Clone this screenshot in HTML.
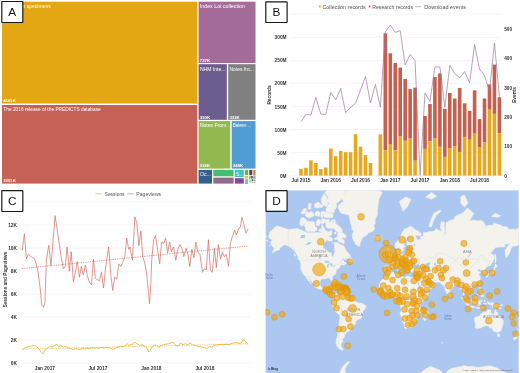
<!DOCTYPE html>
<html><head><meta charset="utf-8"><title>Figure</title>
<style>
html,body{margin:0;padding:0;background:#fff;}
svg{display:block;font-family:"Liberation Sans", Arial, sans-serif;}
</style></head>
<body>
<svg width="520" height="373" viewBox="0 0 520 373">
<rect width="520" height="373" fill="#fff"/>
<g id="panelA">
<rect x="2.00" y="1.70" width="195.20" height="101.80" fill="#E2A712" />
<text x="3.30" y="8.00" font-size="5.2" fill="#fff" text-anchor="start" font-weight="normal"  textLength="47.4" lengthAdjust="spacingAndGlyphs">Collection specimens</text>
<text x="3.20" y="102.30" font-size="4.3" fill="#fff" text-anchor="start" font-weight="bold" >4161K</text>
<rect x="2.00" y="105.00" width="195.20" height="78.60" fill="#C66156" />
<text x="3.30" y="111.30" font-size="5.2" fill="#fff" text-anchor="start" font-weight="normal"  textLength="97.5" lengthAdjust="spacingAndGlyphs">The 2016 release of the PREDICTS database</text>
<text x="3.20" y="182.40" font-size="4.3" fill="#fff" text-anchor="start" font-weight="bold" >3251K</text>
<rect x="198.60" y="1.70" width="56.90" height="61.30" fill="#A36C99" />
<text x="199.90" y="8.00" font-size="5.2" fill="#fff" text-anchor="start" font-weight="normal"  textLength="45" lengthAdjust="spacingAndGlyphs">Index Lot collection</text>
<text x="199.80" y="61.80" font-size="4.3" fill="#fff" text-anchor="start" font-weight="bold" >737K</text>
<rect x="198.60" y="64.20" width="28.20" height="55.60" fill="#6B5D8D" />
<text x="199.90" y="70.50" font-size="5.2" fill="#fff" text-anchor="start" font-weight="normal"  textLength="25.7" lengthAdjust="spacingAndGlyphs">NHM Inte...</text>
<text x="199.80" y="118.60" font-size="4.3" fill="#fff" text-anchor="start" font-weight="bold" >350K</text>
<rect x="228.20" y="64.20" width="27.30" height="55.60" fill="#808080" />
<text x="229.50" y="70.50" font-size="5.2" fill="#fff" text-anchor="start" font-weight="normal"  textLength="24.4" lengthAdjust="spacingAndGlyphs">Notes fro...</text>
<text x="229.40" y="118.60" font-size="4.3" fill="#fff" text-anchor="start" font-weight="bold" >332K</text>
<rect x="198.60" y="121.10" width="31.70" height="47.50" fill="#92B94F" />
<text x="199.90" y="127.40" font-size="5.2" fill="#fff" text-anchor="start" font-weight="normal"  textLength="30.4" lengthAdjust="spacingAndGlyphs">Notes From...</text>
<text x="199.80" y="167.40" font-size="4.3" fill="#fff" text-anchor="start" font-weight="bold" >332K</text>
<rect x="231.70" y="121.10" width="23.80" height="47.50" fill="#4F9DD3" />
<text x="233.00" y="127.40" font-size="5.2" fill="#fff" text-anchor="start" font-weight="normal"  textLength="18.2" lengthAdjust="spacingAndGlyphs">Baleen ...</text>
<text x="232.90" y="167.40" font-size="4.3" fill="#fff" text-anchor="start" font-weight="bold" >249K</text>
<rect x="198.60" y="169.90" width="13.40" height="13.70" fill="#33608B" />
<text x="199.90" y="176.20" font-size="5.2" fill="#fff" text-anchor="start" font-weight="normal" >Oc...</text>
<rect x="213.30" y="169.90" width="20.30" height="6.40" fill="#44BF70" />
<rect x="213.30" y="177.60" width="20.30" height="6.00" fill="#8F6B8C" />
<rect x="234.80" y="169.90" width="9.00" height="7.10" fill="#3FC4C4" />
<text x="236.10" y="176.20" font-size="5.2" fill="#fff" text-anchor="start" font-weight="normal" >S...</text>
<rect x="234.80" y="178.20" width="9.00" height="5.40" fill="#864999" />
<rect x="244.90" y="169.90" width="3.30" height="5.20" fill="#6EB43C" />
<rect x="244.90" y="175.90" width="3.30" height="2.70" fill="#C9D23A" />
<rect x="244.90" y="179.30" width="3.30" height="1.50" fill="#3FC9A0" />
<rect x="244.90" y="181.30" width="3.30" height="1.00" fill="#4F8FD8" />
<rect x="244.90" y="182.70" width="3.30" height="0.90" fill="#9A55A8" />
<rect x="249.30" y="169.90" width="3.00" height="5.20" fill="#4B3F7C" />
<rect x="253.30" y="169.90" width="2.20" height="5.70" fill="#E07B2E" />
<rect x="249.30" y="175.90" width="1.30" height="2.70" fill="#5E9E3E" />
<rect x="251.20" y="175.90" width="1.50" height="2.70" fill="#2B3F6B" />
<rect x="253.30" y="176.30" width="2.20" height="2.30" fill="#8A8A8A" />
<rect x="249.30" y="179.30" width="2.10" height="3.30" fill="#A8D08A" />
<rect x="251.90" y="179.30" width="1.30" height="1.70" fill="#3A4A8A" />
<rect x="253.60" y="179.30" width="1.90" height="1.70" fill="#B58BC0" />
<rect x="251.90" y="181.50" width="1.50" height="1.70" fill="#7FC6E8" />
<rect x="253.80" y="181.50" width="1.70" height="1.70" fill="#E8C05A" />
<rect x="1.80" y="1.50" width="21.00" height="21.00" fill="#fff" stroke="#1a1a1a" stroke-width="1.2" rx="0.4"/>
<text x="12.30" y="15.60" font-size="11.8" fill="#111" text-anchor="middle" font-weight="normal" >A</text>
</g>
<g id="panelB">
<line x1="290" x2="501.5" y1="175.60" y2="175.60" stroke="#EEEEEE" stroke-width="0.6"/>
<text x="286.60" y="177.60" font-size="4.8" fill="#333" text-anchor="end" font-weight="bold" >0M</text>
<line x1="290" x2="501.5" y1="152.57" y2="152.57" stroke="#EEEEEE" stroke-width="0.6"/>
<text x="286.60" y="154.57" font-size="4.8" fill="#333" text-anchor="end" font-weight="bold" >50M</text>
<line x1="290" x2="501.5" y1="129.54" y2="129.54" stroke="#EEEEEE" stroke-width="0.6"/>
<text x="286.60" y="131.54" font-size="4.8" fill="#333" text-anchor="end" font-weight="bold" >100M</text>
<line x1="290" x2="501.5" y1="106.51" y2="106.51" stroke="#EEEEEE" stroke-width="0.6"/>
<text x="286.60" y="108.51" font-size="4.8" fill="#333" text-anchor="end" font-weight="bold" >150M</text>
<line x1="290" x2="501.5" y1="83.48" y2="83.48" stroke="#EEEEEE" stroke-width="0.6"/>
<text x="286.60" y="85.48" font-size="4.8" fill="#333" text-anchor="end" font-weight="bold" >200M</text>
<line x1="290" x2="501.5" y1="60.45" y2="60.45" stroke="#EEEEEE" stroke-width="0.6"/>
<text x="286.60" y="62.45" font-size="4.8" fill="#333" text-anchor="end" font-weight="bold" >250M</text>
<line x1="290" x2="501.5" y1="37.42" y2="37.42" stroke="#EEEEEE" stroke-width="0.6"/>
<text x="286.60" y="39.42" font-size="4.8" fill="#333" text-anchor="end" font-weight="bold" >300M</text>
<line x1="290" x2="501.5" y1="14.39" y2="14.39" stroke="#EEEEEE" stroke-width="0.6"/>
<text x="504.20" y="177.60" font-size="4.7" fill="#333" text-anchor="start" font-weight="bold" >0</text>
<text x="504.20" y="148.30" font-size="4.7" fill="#333" text-anchor="start" font-weight="bold" >100</text>
<text x="504.20" y="119.00" font-size="4.7" fill="#333" text-anchor="start" font-weight="bold" >200</text>
<text x="504.20" y="89.70" font-size="4.7" fill="#333" text-anchor="start" font-weight="bold" >300</text>
<text x="504.20" y="60.40" font-size="4.7" fill="#333" text-anchor="start" font-weight="bold" >400</text>
<text x="504.20" y="31.10" font-size="4.7" fill="#333" text-anchor="start" font-weight="bold" >500</text>
<rect x="299.20" y="168.80" width="3.60" height="6.80" fill="#E6A81C" />
<rect x="304.16" y="167.80" width="3.60" height="7.80" fill="#E6A81C" />
<rect x="309.12" y="160.30" width="3.60" height="15.30" fill="#E6A81C" />
<rect x="314.08" y="163.00" width="3.60" height="12.60" fill="#E6A81C" />
<rect x="319.04" y="169.10" width="3.60" height="6.50" fill="#E6A81C" />
<rect x="324.00" y="167.50" width="3.60" height="8.10" fill="#E6A81C" />
<rect x="328.96" y="148.50" width="3.60" height="27.10" fill="#E6A81C" />
<rect x="333.92" y="156.20" width="3.60" height="19.40" fill="#E6A81C" />
<rect x="338.88" y="150.90" width="3.60" height="24.70" fill="#E6A81C" />
<rect x="343.84" y="152.20" width="3.60" height="23.40" fill="#E6A81C" />
<rect x="348.80" y="152.20" width="3.60" height="23.40" fill="#E6A81C" />
<rect x="353.76" y="134.20" width="3.60" height="41.40" fill="#E6A81C" />
<rect x="358.72" y="146.70" width="3.60" height="28.90" fill="#E6A81C" />
<rect x="363.68" y="155.10" width="3.60" height="20.50" fill="#E6A81C" />
<rect x="368.64" y="163.00" width="3.60" height="12.60" fill="#E6A81C" />
<rect x="378.56" y="134.30" width="3.60" height="41.30" fill="#E6A81C" />
<rect x="383.52" y="33.30" width="3.60" height="117.10" fill="#C4604F" />
<rect x="383.52" y="150.40" width="3.60" height="25.20" fill="#E6A81C" />
<rect x="388.48" y="53.30" width="3.60" height="90.70" fill="#C4604F" />
<rect x="388.48" y="144.00" width="3.60" height="31.60" fill="#E6A81C" />
<rect x="393.44" y="62.90" width="3.60" height="87.50" fill="#C4604F" />
<rect x="393.44" y="150.40" width="3.60" height="25.20" fill="#E6A81C" />
<rect x="398.40" y="67.60" width="3.60" height="68.90" fill="#C4604F" />
<rect x="398.40" y="136.50" width="3.60" height="39.10" fill="#E6A81C" />
<rect x="403.36" y="79.00" width="3.60" height="61.80" fill="#C4604F" />
<rect x="403.36" y="140.80" width="3.60" height="34.80" fill="#E6A81C" />
<rect x="408.32" y="89.10" width="3.60" height="49.50" fill="#C4604F" />
<rect x="408.32" y="138.60" width="3.60" height="37.00" fill="#E6A81C" />
<rect x="413.28" y="87.60" width="3.60" height="73.10" fill="#C4604F" />
<rect x="413.28" y="160.70" width="3.60" height="14.90" fill="#E6A81C" />
<rect x="423.20" y="116.00" width="3.60" height="32.90" fill="#C4604F" />
<rect x="423.20" y="148.90" width="3.60" height="26.70" fill="#E6A81C" />
<rect x="428.16" y="104.00" width="3.60" height="37.20" fill="#C4604F" />
<rect x="428.16" y="141.20" width="3.60" height="34.40" fill="#E6A81C" />
<rect x="433.12" y="77.00" width="3.60" height="61.60" fill="#C4604F" />
<rect x="433.12" y="138.60" width="3.60" height="37.00" fill="#E6A81C" />
<rect x="438.08" y="73.40" width="3.60" height="73.40" fill="#C4604F" />
<rect x="438.08" y="146.80" width="3.60" height="28.80" fill="#E6A81C" />
<rect x="443.04" y="108.80" width="3.60" height="48.10" fill="#C4604F" />
<rect x="443.04" y="156.90" width="3.60" height="18.70" fill="#E6A81C" />
<rect x="448.00" y="93.00" width="3.60" height="55.60" fill="#C4604F" />
<rect x="448.00" y="148.60" width="3.60" height="27.00" fill="#E6A81C" />
<rect x="452.96" y="98.50" width="3.60" height="47.60" fill="#C4604F" />
<rect x="452.96" y="146.10" width="3.60" height="29.50" fill="#E6A81C" />
<rect x="457.92" y="88.00" width="3.60" height="64.10" fill="#C4604F" />
<rect x="457.92" y="152.10" width="3.60" height="23.50" fill="#E6A81C" />
<rect x="462.88" y="103.30" width="3.60" height="33.60" fill="#C4604F" />
<rect x="462.88" y="136.90" width="3.60" height="38.70" fill="#E6A81C" />
<rect x="467.84" y="110.80" width="3.60" height="28.90" fill="#C4604F" />
<rect x="467.84" y="139.70" width="3.60" height="35.90" fill="#E6A81C" />
<rect x="472.80" y="90.40" width="3.60" height="43.30" fill="#C4604F" />
<rect x="472.80" y="133.70" width="3.60" height="41.90" fill="#E6A81C" />
<rect x="477.76" y="119.10" width="3.60" height="28.10" fill="#C4604F" />
<rect x="477.76" y="147.20" width="3.60" height="28.40" fill="#E6A81C" />
<rect x="482.72" y="98.50" width="3.60" height="44.00" fill="#C4604F" />
<rect x="482.72" y="142.50" width="3.60" height="33.10" fill="#E6A81C" />
<rect x="487.68" y="84.50" width="3.60" height="25.20" fill="#C4604F" />
<rect x="487.68" y="109.70" width="3.60" height="65.90" fill="#E6A81C" />
<rect x="492.64" y="64.60" width="3.60" height="49.30" fill="#C4604F" />
<rect x="492.64" y="113.90" width="3.60" height="61.70" fill="#E6A81C" />
<rect x="497.60" y="97.20" width="3.60" height="36.10" fill="#C4604F" />
<rect x="497.60" y="133.30" width="3.60" height="42.30" fill="#E6A81C" />
<polyline points="301.00,121.90 305.96,114.40 310.92,114.90 315.88,97.50 320.84,114.00 325.80,114.40 330.76,92.30 335.72,99.90 340.68,88.50 345.64,112.50 350.60,107.30 355.56,103.10 360.52,90.00 365.48,76.50 370.44,103.10 375.40,84.40 380.36,107.30 385.32,31.90 390.28,25.10 395.24,32.40 400.20,30.60 405.16,64.90 410.12,54.50 415.08,60.60 420.04,175.40 425.00,93.00 429.96,101.50 434.92,66.90 439.88,67.00 444.84,107.50 449.80,65.30 454.76,73.70 459.72,77.80 464.68,71.50 469.64,82.80 474.60,44.40 479.56,69.20 484.52,75.60 489.48,91.00 494.44,43.00 499.40,96.50" fill="none" stroke="#9C7A9E" stroke-width="0.7" stroke-linejoin="round"/>
<text x="301.00" y="181.90" font-size="4.8" fill="#333" text-anchor="middle" font-weight="bold" >Jul 2015</text>
<text x="330.76" y="181.90" font-size="4.8" fill="#333" text-anchor="middle" font-weight="bold" >Jan 2016</text>
<text x="360.52" y="181.90" font-size="4.8" fill="#333" text-anchor="middle" font-weight="bold" >Jul 2016</text>
<text x="390.28" y="181.90" font-size="4.8" fill="#333" text-anchor="middle" font-weight="bold" >Jan 2017</text>
<text x="420.04" y="181.90" font-size="4.8" fill="#333" text-anchor="middle" font-weight="bold" >Jul 2017</text>
<text x="449.80" y="181.90" font-size="4.8" fill="#333" text-anchor="middle" font-weight="bold" >Jan 2018</text>
<text x="479.56" y="181.90" font-size="4.8" fill="#333" text-anchor="middle" font-weight="bold" >Jul 2018</text>
<text transform="translate(271.3,95) rotate(-90)" font-size="4.8" font-weight="bold" fill="#333" text-anchor="middle">Records</text>
<text transform="translate(516.3,95) rotate(-90)" font-size="4.8" font-weight="bold" fill="#333" text-anchor="middle">Events</text>
<circle cx="319.9" cy="6.6" r="1" fill="#E6A81C"/>
<text x="322.40" y="8.50" font-size="5.4" fill="#555" text-anchor="start" font-weight="normal"  textLength="43.2" lengthAdjust="spacingAndGlyphs">Collection records</text>
<circle cx="369.7" cy="6.6" r="1" fill="#C4453A"/>
<text x="372.20" y="8.50" font-size="5.4" fill="#555" text-anchor="start" font-weight="normal"  textLength="40.8" lengthAdjust="spacingAndGlyphs">Research records</text>
<line x1="415" x2="421" y1="6.6" y2="6.6" stroke="#9C7A9E" stroke-width="0.6"/>
<text x="424.30" y="8.50" font-size="5.4" fill="#555" text-anchor="start" font-weight="normal"  textLength="41.6" lengthAdjust="spacingAndGlyphs">Download events</text>
<rect x="265.80" y="1.80" width="21.30" height="20.70" fill="#fff" stroke="#1a1a1a" stroke-width="1.2" rx="0.4"/>
<text x="276.45" y="15.75" font-size="11.8" fill="#111" text-anchor="middle" font-weight="normal" >B</text>
</g>
<g id="panelC">
<line x1="22" x2="251" y1="363.00" y2="363.00" stroke="#EEEEEE" stroke-width="0.6"/>
<text x="17.00" y="365.20" font-size="4.8" fill="#333" text-anchor="end" font-weight="bold" >0K</text>
<line x1="22" x2="251" y1="340.00" y2="340.00" stroke="#EEEEEE" stroke-width="0.6"/>
<text x="17.00" y="342.20" font-size="4.8" fill="#333" text-anchor="end" font-weight="bold" >2K</text>
<line x1="22" x2="251" y1="317.00" y2="317.00" stroke="#EEEEEE" stroke-width="0.6"/>
<text x="17.00" y="319.20" font-size="4.8" fill="#333" text-anchor="end" font-weight="bold" >4K</text>
<line x1="22" x2="251" y1="294.00" y2="294.00" stroke="#EEEEEE" stroke-width="0.6"/>
<text x="17.00" y="296.20" font-size="4.8" fill="#333" text-anchor="end" font-weight="bold" >6K</text>
<line x1="22" x2="251" y1="271.00" y2="271.00" stroke="#EEEEEE" stroke-width="0.6"/>
<text x="17.00" y="273.20" font-size="4.8" fill="#333" text-anchor="end" font-weight="bold" >8K</text>
<line x1="22" x2="251" y1="248.00" y2="248.00" stroke="#EEEEEE" stroke-width="0.6"/>
<text x="17.00" y="250.20" font-size="4.8" fill="#333" text-anchor="end" font-weight="bold" >10K</text>
<line x1="22" x2="251" y1="225.00" y2="225.00" stroke="#EEEEEE" stroke-width="0.6"/>
<text x="17.00" y="227.20" font-size="4.8" fill="#333" text-anchor="end" font-weight="bold" >12K</text>
<line x1="22" x2="251" y1="202.00" y2="202.00" stroke="#EEEEEE" stroke-width="0.6"/>
<line x1="22" y1="268.6" x2="248" y2="246" stroke="#C4604F" stroke-width="0.7" stroke-dasharray="0.9 0.9"/>
<polyline points="22.24,250.61 24.41,233.72 26.34,259.06 28.27,254.23 30.20,255.92 32.37,257.37 34.31,258.33 36.24,263.88 38.17,272.33 40.10,288.01 41.79,304.91 43.47,307.32 44.92,302.49 46.37,260.26 48.78,245.30 50.96,265.57 53.13,239.75 55.06,215.62 57.23,230.10 59.16,243.37 61.33,257.85 63.26,268.71 65.19,267.02 67.12,246.99 69.30,271.12 71.23,251.82 73.40,281.98 75.33,272.33 77.26,261.47 79.43,277.15 81.36,266.30 83.29,274.74 85.46,265.09 87.39,275.95 89.32,281.98 91.50,284.88 93.43,259.06 95.36,278.36 97.29,279.57 99.46,280.77 101.39,272.33 103.56,288.01 105.49,268.71 108.63,246.99 110.80,274.74 112.73,290.43 114.66,277.15 116.83,279.08 118.76,263.88 120.69,266.30 122.63,262.68 124.80,256.64 126.73,238.06 128.66,249.40 130.00,246.99 132.41,260.26 134.83,216.83 136.76,222.86 138.93,245.78 140.86,230.82 142.79,256.64 144.96,263.88 146.89,274.74 148.34,291.63 149.55,303.70 150.75,284.39 151.72,260.26 153.65,239.75 155.58,235.65 157.75,250.61 159.68,263.88 161.61,242.16 163.78,243.37 165.71,238.06 167.64,253.02 169.58,242.16 171.51,251.82 173.44,246.99 175.85,260.26 177.78,249.40 179.95,244.58 181.88,248.20 183.81,256.64 185.98,248.20 187.92,254.23 189.85,266.30 191.78,249.40 193.95,257.85 195.88,242.16 197.81,251.82 199.98,254.23 202.39,272.33 204.32,268.71 206.25,269.92 208.43,239.75 210.36,269.92 212.29,272.33 214.46,248.20 216.39,267.50 218.32,244.58 220.49,259.06 222.42,251.82 224.35,256.64 226.28,254.23 228.46,266.30 230.39,243.37 232.56,236.13 234.49,230.10 236.42,234.92 238.59,228.89 240.52,226.48 241.97,217.31 243.90,224.07 245.83,233.24 248.24,228.89" fill="none" stroke="#D66A60" stroke-width="0.7" stroke-linejoin="round"/>
<line x1="22" y1="349.2" x2="248" y2="343.8" stroke="#E6A81C" stroke-width="0.7" stroke-dasharray="0.9 0.9"/>
<polyline points="22.21,350.24 24.62,347.84 27.02,347.12 29.42,346.15 31.83,345.91 34.23,345.43 36.63,346.63 39.04,349.04 41.44,352.64 43.12,353.85 45.05,350.24 47.45,347.84 49.86,346.63 52.26,347.12 54.66,345.43 56.59,344.23 58.75,346.63 60.67,345.43 63.08,347.12 65.48,346.15 67.88,347.84 70.29,348.56 72.69,349.52 75.10,348.56 77.50,349.04 79.90,349.52 82.31,348.56 84.71,349.04 87.12,348.32 89.52,348.56 91.92,347.84 94.33,348.32 96.73,347.84 99.13,348.32 101.54,347.36 103.94,348.32 106.35,347.12 108.75,347.84 111.15,348.32 113.56,349.04 115.96,347.84 118.37,347.12 120.77,346.15 123.17,346.63 125.58,345.43 127.50,343.75 129.42,346.15 130.00,344.71 132.40,344.23 134.81,342.31 137.21,343.75 139.62,345.43 142.02,344.71 144.42,346.15 146.83,347.84 148.75,351.92 150.43,350.24 152.12,346.63 154.04,345.43 156.44,344.71 158.85,347.12 161.25,345.43 163.65,344.71 166.06,344.23 168.46,343.75 170.87,343.03 173.27,342.31 175.67,345.43 178.08,346.15 180.48,343.03 182.88,344.71 185.29,343.75 187.69,344.71 190.10,343.03 192.50,344.71 194.90,345.43 197.31,346.15 199.71,346.63 202.12,347.12 204.52,347.84 206.92,348.56 209.33,346.63 211.73,347.12 214.13,345.43 216.54,344.95 218.94,344.71 221.35,344.23 223.75,344.71 226.15,344.23 228.56,344.71 230.96,343.75 233.37,343.03 235.77,342.31 238.17,343.03 240.58,343.75 242.98,339.90 244.90,340.62 246.59,343.03 248.27,344.23" fill="none" stroke="#E3A820" stroke-width="0.75" stroke-linejoin="round"/>
<text x="44.90" y="370.20" font-size="4.8" fill="#333" text-anchor="middle" font-weight="bold" >Jan 2017</text>
<text x="97.90" y="370.20" font-size="4.8" fill="#333" text-anchor="middle" font-weight="bold" >Jul 2017</text>
<text x="151.40" y="370.20" font-size="4.8" fill="#333" text-anchor="middle" font-weight="bold" >Jan 2018</text>
<text x="204.90" y="370.20" font-size="4.8" fill="#333" text-anchor="middle" font-weight="bold" >Jul 2018</text>
<text transform="translate(6.6,279.5) rotate(-90)" font-size="4.7" font-weight="bold" fill="#333" text-anchor="middle">Sessions and Pageviews</text>
<line x1="95.4" x2="101.6" y1="193.8" y2="193.8" stroke="#E6A81C" stroke-width="0.6"/>
<text x="104.60" y="195.60" font-size="5.2" fill="#555" text-anchor="start" font-weight="normal"  textLength="20" lengthAdjust="spacingAndGlyphs">Sessions</text>
<line x1="127.2" x2="133.8" y1="193.8" y2="193.8" stroke="#D9776D" stroke-width="0.6"/>
<text x="136.30" y="195.60" font-size="5.2" fill="#555" text-anchor="start" font-weight="normal"  textLength="24.9" lengthAdjust="spacingAndGlyphs">Pageviews</text>
<rect x="1.80" y="190.60" width="21.00" height="20.90" fill="#fff" stroke="#1a1a1a" stroke-width="1.2" rx="0.4"/>
<text x="12.30" y="204.65" font-size="11.8" fill="#111" text-anchor="middle" font-weight="normal" >C</text>
</g>
<g id="panelD">
<clipPath id="mc"><rect x="265.4" y="190.2" width="253.39999999999998" height="182.8"/></clipPath>
<g clip-path="url(#mc)">
<rect x="265.40" y="190.20" width="253.40" height="182.80" fill="#ACC7F0" />
<path d="M124.1,273.1 L123.4,272.1 L121.6,272.1 L121.2,270.6 L121.7,267.9 L121.4,266.2 L122.3,265.7 L125.6,265.9 L126.9,266.0 L127.3,263.3 L126.3,262.0 L124.7,260.8 L127.0,260.4 L126.8,259.3 L128.3,259.5 L129.3,257.9 L130.7,257.3 L131.6,255.4 L133.3,254.8 L134.5,254.3 L134.1,252.3 L134.1,250.3 L135.9,249.4 L135.5,251.7 L135.8,253.6 L136.2,254.2 L138.5,254.2 L141.7,253.2 L142.6,253.6 L143.5,252.6 L143.5,250.3 L144.6,249.4 L145.8,250.1 L146.0,248.6 L145.3,247.3 L148.6,246.6 L150.1,246.1 L149.0,245.2 L146.4,245.8 L144.8,246.3 L143.7,244.6 L143.9,241.5 L146.4,238.2 L145.7,236.8 L144.2,237.0 L143.5,239.4 L140.9,242.6 L140.7,244.6 L141.9,246.1 L140.2,248.3 L140.1,251.0 L138.6,252.3 L137.5,252.3 L136.3,248.3 L135.8,247.1 L134.0,248.8 L132.2,247.9 L131.8,243.9 L133.3,241.9 L135.8,239.4 L137.6,235.9 L139.1,232.1 L141.7,229.0 L144.2,228.0 L146.9,226.2 L149.0,226.9 L150.8,228.6 L152.3,230.1 L154.8,230.7 L158.1,234.0 L157.7,236.1 L153.7,235.3 L152.3,235.3 L153.6,239.1 L155.2,240.1 L155.9,239.4 L157.7,238.9 L157.4,236.8 L160.2,236.1 L160.3,232.1 L162.1,232.7 L166.9,231.3 L168.3,231.7 L172.0,230.7 L172.7,228.6 L177.1,231.1 L178.6,231.7 L177.1,226.4 L178.2,221.7 L181.1,222.2 L181.1,226.4 L181.9,231.7 L180.8,235.9 L182.6,233.7 L182.8,222.9 L186.6,220.4 L191.0,219.6 L191.7,216.4 L199.8,212.8 L204.4,208.0 L210.7,213.4 L206.4,220.9 L210.7,219.9 L214.4,220.9 L218.4,220.4 L221.0,222.9 L222.8,226.4 L225.4,225.3 L229.7,225.3 L230.5,222.9 L237.8,225.3 L239.3,226.6 L244.4,226.9 L245.1,229.5 L250.9,229.0 L252.4,230.7 L253.1,228.6 L256.8,229.2 L259.7,230.7 L263.4,233.7 L267.0,236.4 L264.1,239.4 L260.5,237.7 L257.5,238.7 L259.0,242.6 L253.9,245.4 L252.4,246.1 L249.5,246.1 L247.7,249.0 L246.9,251.7 L245.1,255.4 L242.9,257.8 L242.2,254.2 L241.8,250.3 L242.9,249.0 L245.1,245.4 L247.3,242.3 L245.1,243.9 L242.2,243.9 L241.4,247.1 L237.8,246.9 L232.7,247.3 L230.5,249.7 L227.2,253.3 L229.0,254.2 L231.2,255.4 L230.8,259.0 L229.4,262.3 L227.2,265.4 L224.6,266.2 L223.5,266.9 L221.7,269.3 L222.8,272.1 L222.4,273.8 L220.6,274.4 L220.6,272.1 L219.5,271.2 L219.5,269.6 L217.0,270.3 L216.6,268.6 L214.4,270.3 L215.1,271.7 L217.7,272.0 L215.5,274.0 L216.6,276.6 L217.3,277.9 L217.0,280.0 L215.5,282.0 L213.7,283.6 L211.5,284.6 L208.9,285.4 L208.6,286.1 L207.1,285.1 L205.6,286.8 L206.4,288.8 L208.0,291.7 L207.8,292.8 L206.2,293.7 L204.9,294.9 L204.9,294.0 L203.1,292.5 L201.8,291.5 L200.9,293.2 L200.9,294.5 L202.0,296.3 L203.8,298.4 L204.3,300.3 L203.8,300.3 L202.2,299.3 L201.5,296.9 L200.0,295.4 L200.1,293.6 L199.8,291.3 L199.4,289.1 L198.0,289.6 L197.1,289.4 L197.1,287.3 L195.4,285.2 L195.0,284.3 L193.2,285.0 L191.7,285.4 L190.3,286.8 L188.3,289.1 L186.8,289.8 L186.8,291.7 L186.5,293.7 L185.4,294.8 L184.8,295.4 L183.9,294.3 L182.8,291.7 L181.9,289.4 L181.4,287.1 L181.4,285.6 L179.7,285.7 L178.6,284.6 L179.5,284.0 L177.5,283.4 L176.8,282.2 L173.1,282.3 L170.2,281.8 L169.4,280.8 L168.0,281.2 L165.8,280.1 L164.7,278.3 L163.6,278.3 L163.2,278.7 L164.7,281.0 L165.8,282.8 L167.6,283.1 L169.2,281.4 L169.4,282.8 L171.1,283.8 L171.9,284.4 L170.4,287.1 L168.3,288.7 L166.2,289.8 L163.6,291.0 L161.0,291.9 L159.9,291.9 L159.4,290.2 L159.2,289.1 L157.9,286.8 L156.6,285.2 L155.3,282.4 L153.7,280.0 L153.6,278.7 L153.1,277.2 L153.7,275.7 L154.5,273.2 L154.6,272.4 L153.0,272.8 L151.5,273.0 L150.4,272.8 L149.3,272.4 L148.2,272.1 L147.5,270.8 L147.7,269.3 L147.1,268.7 L145.7,268.6 L145.3,269.3 L144.7,269.1 L145.0,270.3 L145.7,271.2 L145.0,271.7 L145.1,272.6 L144.0,272.3 L143.5,270.9 L142.3,269.0 L142.4,267.6 L141.7,266.9 L139.8,265.9 L139.1,264.9 L138.2,264.2 L138.2,263.7 L137.1,264.1 L137.2,265.2 L138.1,265.9 L139.7,267.4 L139.8,267.9 L141.7,269.2 L140.6,268.9 L140.2,269.8 L140.6,270.3 L140.2,270.9 L139.6,271.2 L139.8,270.3 L139.5,269.3 L138.7,268.7 L137.3,267.9 L135.8,266.6 L135.6,265.5 L134.6,265.0 L133.6,265.6 L132.5,266.3 L131.1,265.9 L130.3,266.9 L130.5,267.6 L128.7,268.4 L128.1,269.8 L128.1,270.6 L127.6,271.5 L126.7,272.3 L124.9,272.4Z M258.6,226.4 L260.8,226.6 L261.3,225.5 L259.4,225.0Z M268.5,237.3 L270.0,231.7 L276.9,225.7 L288.2,229.5 L297.7,228.6 L307.2,232.7 L312.4,232.7 L321.1,232.7 L321.9,224.1 L325.5,230.7 L329.2,231.7 L331.4,229.7 L332.1,234.6 L328.4,236.4 L327.0,239.9 L322.6,244.6 L323.3,247.9 L329.2,252.6 L331.4,252.9 L331.4,256.0 L333.2,257.2 L333.9,254.2 L335.0,251.7 L334.3,248.3 L334.6,245.4 L334.3,242.5 L337.9,242.6 L340.1,244.6 L343.8,245.7 L346.3,251.0 L349.6,254.2 L350.6,256.6 L347.4,258.7 L343.1,258.7 L340.1,261.7 L343.8,260.1 L344.2,262.3 L346.7,263.3 L343.8,265.4 L342.3,264.4 L340.1,265.7 L339.8,267.7 L337.2,268.9 L336.1,271.2 L335.7,274.0 L334.3,274.8 L332.1,277.0 L332.8,280.8 L332.6,282.3 L331.7,281.8 L330.8,280.0 L329.9,278.3 L328.4,278.0 L326.2,278.1 L325.9,279.0 L324.8,278.9 L322.6,278.7 L320.4,280.0 L320.0,282.0 L319.8,284.4 L321.1,287.1 L322.2,287.7 L324.4,287.5 L325.1,285.6 L327.7,285.2 L327.3,287.5 L326.6,289.4 L328.4,289.6 L330.3,290.0 L330.3,293.2 L331.4,294.7 L333.2,294.3 L334.8,295.1 L334.6,295.8 L332.8,295.9 L331.7,295.4 L330.6,295.2 L328.8,294.0 L327.3,291.7 L324.4,291.0 L322.6,289.4 L320.4,289.6 L318.2,288.7 L314.5,286.8 L314.2,284.8 L312.4,282.4 L309.1,278.3 L307.5,277.0 L308.7,279.1 L310.9,282.8 L311.3,284.0 L309.4,281.6 L307.6,280.0 L306.5,277.9 L305.6,276.2 L303.2,274.4 L302.1,272.1 L300.7,269.1 L300.7,263.3 L300.1,260.8 L301.4,260.1 L298.5,257.8 L296.3,253.6 L294.1,250.3 L291.2,247.9 L288.2,246.1 L284.6,244.6 L282.4,246.1 L280.2,247.6 L278.7,249.7 L275.8,251.0 L272.1,252.9 L274.3,248.3 L272.9,246.9 L270.7,244.6 L270.7,241.5 L273.6,239.9 L270.7,239.1Z M337.9,205.9 L338.7,209.3 L341.2,213.4 L342.7,213.4 L348.9,214.9 L350.4,221.7 L351.5,226.4 L351.8,229.7 L354.0,230.7 L352.2,234.6 L352.2,236.4 L353.3,239.9 L354.8,242.3 L355.8,244.6 L358.4,246.1 L359.5,246.3 L359.9,245.4 L360.2,243.1 L361.3,240.7 L362.1,238.2 L363.9,237.0 L366.4,235.5 L368.6,232.7 L372.3,231.7 L374.9,228.6 L373.8,226.4 L375.2,222.9 L375.2,219.1 L377.4,214.9 L377.4,210.3 L378.1,205.1 L378.9,199.2 L382.5,192.4 L376.7,189.9 L369.4,181.1 L358.4,181.8 L351.1,188.3 L347.4,189.9 L343.8,194.8 L341.6,199.2 L343.8,201.3 L339.4,204.4Z M343.8,243.6 L341.6,242.8 L339.0,241.9 L337.9,239.4 L335.0,239.4 L334.3,238.2 L337.2,237.3 L337.6,234.6 L338.3,232.7 L335.7,230.7 L333.9,228.6 L331.4,228.6 L329.2,228.6 L326.2,227.5 L325.5,224.1 L325.9,219.6 L329.2,219.6 L329.5,222.9 L332.1,219.9 L335.0,222.2 L337.2,224.8 L339.4,226.4 L341.6,228.6 L342.3,230.7 L341.6,232.3 L344.5,234.0 L346.0,235.2 L346.3,236.4 L345.2,238.2 L343.8,237.3 L342.0,238.2 L344.5,241.0Z M305.8,230.7 L308.3,231.7 L311.6,231.5 L314.5,231.7 L317.1,229.7 L316.7,227.5 L314.9,226.4 L314.5,222.2 L312.4,221.2 L310.9,221.9 L308.0,220.9 L305.0,222.7 L304.3,225.3 L305.4,227.5Z M299.6,224.1 L300.7,218.6 L302.8,217.5 L305.4,218.6 L306.9,220.9 L304.3,224.1 L302.8,225.7 L301.0,226.0Z M334.3,212.5 L332.8,212.8 L326.2,212.2 L325.9,208.7 L327.7,206.2 L329.2,203.3 L327.7,201.3 L328.4,197.1 L324.8,192.4 L327.7,189.9 L331.4,185.4 L340.1,183.6 L346.0,187.1 L346.3,189.9 L343.8,194.8 L342.3,198.0 L339.4,201.3 L336.5,203.3 L336.5,206.9 L334.3,210.3Z M333.2,214.9 L332.8,217.5 L329.2,217.8 L324.0,217.2 L323.7,214.0 L321.1,214.9 L320.8,211.9 L324.0,211.3 L326.2,212.8 L332.1,213.4Z M305.4,215.8 L308.7,218.0 L312.4,216.6 L314.2,215.8 L313.8,213.4 L311.6,211.3 L308.7,212.5 L306.1,211.6Z M321.1,223.6 L323.0,224.1 L325.3,221.7 L325.1,219.1 L321.5,218.8 L321.1,221.7Z M327.3,206.2 L328.1,201.3 L327.0,197.5 L324.0,193.4 L321.1,199.2 L321.9,203.3 L324.8,206.2Z M348.0,261.6 L352.6,262.7 L352.8,260.6 L350.7,257.2 L349.4,258.4Z M329.2,284.8 L332.8,283.9 L336.5,285.8 L337.1,286.2 L334.6,286.5 L334.3,285.6 L331.4,284.4Z M336.9,287.5 L338.7,286.4 L341.2,287.5 L339.4,287.9Z M334.8,295.1 L336.1,293.4 L338.7,292.5 L339.0,294.0 L340.1,292.5 L341.6,293.6 L344.5,293.6 L346.0,293.4 L347.4,295.1 L349.6,296.9 L351.8,297.1 L353.7,298.2 L354.8,300.6 L354.8,301.3 L356.2,302.0 L358.8,303.1 L362.1,303.3 L364.3,304.8 L365.7,305.3 L365.7,307.9 L364.3,309.8 L362.8,311.3 L362.8,314.3 L361.7,317.0 L360.6,318.6 L358.4,319.2 L355.8,321.0 L355.7,323.1 L353.3,326.4 L352.2,328.2 L350.4,328.5 L348.7,327.8 L349.6,330.0 L349.0,331.6 L346.0,332.3 L345.8,334.2 L343.8,334.2 L344.7,335.7 L343.6,338.2 L342.0,339.3 L343.2,340.9 L341.2,343.6 L340.9,346.3 L343.6,349.4 L342.0,350.3 L339.4,349.0 L337.2,346.6 L336.1,343.6 L336.1,340.1 L337.9,335.2 L337.4,332.3 L337.6,330.5 L339.0,326.0 L339.0,322.6 L339.9,318.6 L339.9,314.9 L337.9,313.4 L335.5,311.6 L334.9,310.1 L333.6,307.2 L331.9,305.7 L331.9,304.4 L332.8,303.7 L332.5,302.0 L332.8,300.7 L333.7,300.2 L334.6,298.4 L334.6,296.2Z M387.3,273.1 L386.5,272.1 L384.7,272.1 L384.4,270.6 L384.9,267.9 L384.6,266.2 L385.5,265.7 L388.7,265.9 L390.1,266.0 L390.4,263.3 L389.5,262.0 L387.9,260.8 L390.1,260.4 L390.0,259.3 L391.4,259.5 L392.5,257.9 L393.9,257.3 L394.7,255.4 L396.4,254.8 L397.7,254.3 L397.3,252.3 L397.3,250.3 L399.0,249.4 L398.6,251.7 L399.0,253.6 L399.3,254.2 L401.7,254.2 L404.8,253.2 L405.8,253.6 L406.7,252.6 L406.7,250.3 L407.7,249.4 L409.0,250.1 L409.1,248.6 L408.5,247.3 L411.8,246.6 L413.2,246.1 L412.1,245.2 L409.6,245.8 L408.0,246.3 L406.9,244.6 L407.0,241.5 L409.6,238.2 L408.8,236.8 L407.4,237.0 L406.7,239.4 L404.1,242.6 L403.9,244.6 L405.0,246.1 L403.4,248.3 L403.3,251.0 L401.8,252.3 L400.7,252.3 L399.5,248.3 L399.0,247.1 L397.1,248.8 L395.3,247.9 L395.0,243.9 L396.4,241.9 L399.0,239.4 L400.8,235.9 L402.3,232.1 L404.8,229.0 L407.4,228.0 L410.1,226.2 L412.1,226.9 L414.0,228.6 L415.4,230.1 L418.0,230.7 L421.3,234.0 L420.9,236.1 L416.9,235.3 L415.4,235.3 L416.7,239.1 L418.3,240.1 L419.1,239.4 L420.9,238.9 L420.5,236.8 L423.3,236.1 L423.5,232.1 L425.3,232.7 L430.0,231.3 L431.5,231.7 L435.2,230.7 L435.9,228.6 L440.3,231.1 L441.7,231.7 L440.3,226.4 L441.4,221.7 L444.3,222.2 L444.3,226.4 L445.0,231.7 L443.9,235.9 L445.8,233.7 L446.0,222.9 L449.8,220.4 L454.2,219.6 L454.9,216.4 L462.9,212.8 L467.5,208.0 L473.9,213.4 L469.5,220.9 L473.9,219.9 L477.6,220.9 L481.6,220.4 L484.1,222.9 L486.0,226.4 L488.5,225.3 L492.9,225.3 L493.6,222.9 L500.9,225.3 L502.4,226.6 L507.5,226.9 L508.3,229.5 L514.1,229.0 L515.6,230.7 L516.3,228.6 L520.0,229.2 L522.9,230.7 L526.5,233.7 L530.2,236.4 L527.3,239.4 L523.6,237.7 L520.7,238.7 L522.1,242.6 L517.0,245.4 L515.6,246.1 L512.6,246.1 L510.8,249.0 L510.1,251.7 L508.3,255.4 L506.1,257.8 L505.3,254.2 L505.0,250.3 L506.1,249.0 L508.3,245.4 L510.5,242.3 L508.3,243.9 L505.3,243.9 L504.6,247.1 L500.9,246.9 L495.8,247.3 L493.6,249.7 L490.4,253.3 L492.2,254.2 L494.4,255.4 L494.0,259.0 L492.5,262.3 L490.4,265.4 L487.8,266.2 L486.7,266.9 L484.9,269.3 L486.0,272.1 L485.6,273.8 L483.8,274.4 L483.8,272.1 L482.7,271.2 L482.7,269.6 L480.1,270.3 L479.8,268.6 L477.6,270.3 L478.3,271.7 L480.8,272.0 L478.7,274.0 L479.8,276.6 L480.5,277.9 L480.1,280.0 L478.7,282.0 L476.8,283.6 L474.6,284.6 L472.1,285.4 L471.7,286.1 L470.2,285.1 L468.8,286.8 L469.5,288.8 L471.2,291.7 L471.0,292.8 L469.4,293.7 L468.1,294.9 L468.1,294.0 L466.2,292.5 L465.0,291.5 L464.0,293.2 L464.0,294.5 L465.1,296.3 L467.0,298.4 L467.5,300.3 L467.0,300.3 L465.4,299.3 L464.6,296.9 L463.2,295.4 L463.3,293.6 L462.9,291.3 L462.6,289.1 L461.1,289.6 L460.2,289.4 L460.2,287.3 L458.6,285.2 L458.2,284.3 L456.4,285.0 L454.9,285.4 L453.4,286.8 L451.5,289.1 L449.9,289.8 L449.9,291.7 L449.6,293.7 L448.5,294.8 L448.0,295.4 L447.1,294.3 L446.0,291.7 L445.0,289.4 L444.5,287.1 L444.5,285.6 L442.8,285.7 L441.7,284.6 L442.7,284.0 L440.6,283.4 L439.9,282.2 L436.3,282.3 L433.3,281.8 L432.6,280.8 L431.1,281.2 L428.9,280.1 L427.9,278.3 L426.8,278.3 L426.4,278.7 L427.9,281.0 L428.9,282.8 L430.8,283.1 L432.4,281.4 L432.6,282.8 L434.3,283.8 L435.0,284.4 L433.6,287.1 L431.5,288.7 L429.3,289.8 L426.8,291.0 L424.2,291.9 L423.1,291.9 L422.5,290.2 L422.4,289.1 L421.1,286.8 L419.8,285.2 L418.5,282.4 L416.9,280.0 L416.7,278.7 L416.3,277.2 L416.9,275.7 L417.6,273.2 L417.8,272.4 L416.2,272.8 L414.7,273.0 L413.6,272.8 L412.5,272.4 L411.4,272.1 L410.7,270.8 L410.8,269.3 L410.3,268.7 L408.8,268.6 L408.5,269.3 L407.9,269.1 L408.1,270.3 L408.8,271.2 L408.1,271.7 L408.3,272.6 L407.2,272.3 L406.7,270.9 L405.5,269.0 L405.6,267.6 L404.8,266.9 L403.0,265.9 L402.3,264.9 L401.3,264.2 L401.3,263.7 L400.3,264.1 L400.4,265.2 L401.2,265.9 L402.8,267.4 L403.0,267.9 L404.8,269.2 L403.7,268.9 L403.4,269.8 L403.7,270.3 L403.4,270.9 L402.8,271.2 L403.0,270.3 L402.6,269.3 L401.9,268.7 L400.4,267.9 L399.0,266.6 L398.8,265.5 L397.7,265.0 L396.8,265.6 L395.7,266.3 L394.2,265.9 L393.5,266.9 L393.6,267.6 L391.9,268.4 L391.3,269.8 L391.3,270.6 L390.8,271.5 L389.8,272.3 L388.0,272.4Z M387.0,273.2 L389.8,273.8 L392.0,272.6 L395.0,272.3 L398.6,271.9 L399.3,272.1 L398.8,274.6 L399.7,275.5 L402.3,276.3 L405.2,278.0 L405.9,277.4 L406.1,276.3 L408.1,276.0 L409.6,276.8 L412.5,277.4 L414.0,277.0 L414.9,277.3 L416.3,277.2 L416.7,278.7 L415.9,280.0 L417.3,283.2 L418.3,285.6 L418.6,287.5 L420.0,289.8 L421.6,291.3 L423.0,292.6 L423.8,293.6 L425.7,293.1 L428.7,292.5 L428.6,293.6 L427.5,296.2 L426.0,298.4 L423.5,300.6 L421.6,302.6 L420.5,304.2 L419.8,305.7 L420.2,307.2 L420.9,309.0 L421.1,312.0 L419.4,314.1 L417.3,315.8 L416.9,318.6 L417.3,319.4 L415.4,320.6 L415.3,322.6 L414.0,324.3 L411.8,326.9 L410.1,327.8 L407.4,327.9 L405.9,328.5 L404.8,327.9 L404.6,326.0 L403.4,323.1 L402.3,321.4 L401.9,318.2 L400.7,315.1 L399.9,313.5 L401.3,310.1 L401.0,307.9 L400.3,305.7 L399.9,304.6 L398.2,302.8 L397.9,301.7 L398.4,300.2 L398.5,298.7 L397.7,298.0 L396.4,298.1 L395.3,297.3 L394.6,296.7 L392.8,296.7 L390.6,297.5 L389.5,297.6 L388.0,297.5 L385.8,298.1 L384.7,297.5 L382.9,296.2 L381.6,294.7 L380.3,293.2 L379.1,292.1 L379.0,291.0 L378.5,290.4 L379.2,289.1 L379.4,287.1 L378.9,285.6 L379.6,283.5 L380.7,281.6 L381.8,280.1 L383.3,279.4 L384.2,278.3 L384.2,277.0 L385.1,275.5 L386.3,274.8Z M427.3,310.1 L428.2,312.8 L427.5,314.3 L425.8,320.0 L424.3,320.6 L423.2,319.0 L423.0,317.4 L423.8,316.1 L423.5,313.9 L424.6,313.2 L426.0,312.4Z M387.3,258.8 L388.7,258.5 L392.3,257.6 L391.7,257.2 L392.5,255.8 L391.5,255.4 L391.2,253.6 L390.1,252.3 L389.7,251.7 L389.8,249.5 L388.4,249.5 L389.0,248.1 L387.6,248.1 L386.8,249.7 L387.3,251.7 L387.8,253.2 L389.0,253.2 L389.1,254.9 L388.0,255.2 L388.2,256.3 L387.5,256.9 L389.0,257.3Z M384.0,257.0 L386.8,256.4 L386.9,254.2 L387.3,253.2 L385.8,252.6 L384.0,253.8 L384.1,255.1Z M373.8,237.3 L374.9,235.7 L378.1,236.1 L380.6,236.1 L381.3,238.2 L379.6,239.9 L377.6,240.9 L374.9,240.1 L375.2,238.7Z M399.3,201.3 L403.0,211.3 L407.4,206.9 L411.0,199.2 L405.9,197.1Z M428.9,226.4 L431.5,226.9 L433.0,221.7 L436.6,214.9 L441.4,211.0 L439.5,210.3 L433.7,213.4 L430.8,220.4Z M460.7,203.3 L464.4,206.9 L468.1,203.3 L464.4,194.8 L460.7,197.1Z M491.4,216.4 L497.3,217.2 L500.9,215.8 L495.1,213.4Z M425.7,197.1 L431.5,199.2 L436.6,196.2 L431.5,192.4Z M486.9,274.8 L488.2,273.5 L490.7,273.1 L491.7,271.9 L493.3,270.8 L493.6,268.9 L494.7,268.0 L495.1,269.8 L494.4,271.4 L494.2,273.5 L493.4,274.0 L492.5,274.2 L491.4,274.3 L490.5,275.3 L490.0,274.3 L488.2,274.7Z M486.3,275.3 L487.6,275.3 L487.3,277.2 L486.5,277.3 L486.1,275.9Z M493.9,267.9 L495.0,266.4 L494.9,264.0 L497.5,265.7 L496.2,267.4Z M495.1,263.3 L496.2,259.8 L495.6,253.8 L495.0,256.6Z M479.2,284.0 L479.8,282.3 L480.4,282.4 L479.7,284.8Z M470.8,287.0 L472.1,286.4 L472.4,286.8 L471.3,287.8Z M449.6,295.1 L449.9,294.1 L451.1,295.8 L450.5,296.9 L449.8,296.8Z M479.2,289.4 L479.5,287.5 L480.6,287.6 L480.5,289.4 L481.9,291.7 L480.8,291.3 L479.8,291.0Z M480.5,296.2 L481.6,295.0 L483.0,294.2 L483.8,296.2 L483.0,297.1 L481.9,296.5Z M480.5,292.6 L481.9,292.8 L483.0,293.2 L482.7,294.0 L481.2,294.3 L480.5,293.6Z M477.0,295.1 L478.7,293.4 L478.8,293.7 L477.4,295.2Z M471.0,300.2 L471.5,299.8 L472.7,299.5 L473.9,299.0 L475.4,297.6 L476.6,296.2 L478.3,297.5 L477.4,298.7 L477.6,300.6 L477.2,301.9 L476.3,304.1 L475.0,304.2 L473.0,303.7 L471.7,302.4 L471.0,301.3Z M461.0,297.2 L462.6,297.5 L464.8,299.7 L467.0,302.0 L468.8,303.9 L468.6,305.5 L467.7,305.5 L465.1,303.3 L463.3,300.2Z M468.2,306.3 L470.6,306.1 L472.4,306.1 L475.0,306.9 L474.9,307.7 L471.7,307.3 L469.2,306.7Z M475.7,307.4 L478.3,307.4 L481.2,307.4 L482.7,307.5 L484.1,307.5 L481.9,308.6 L479.0,308.5 L476.1,307.9Z M478.7,305.3 L478.3,303.5 L479.0,300.7 L481.2,300.6 L482.7,300.1 L481.9,301.1 L479.4,301.2 L479.8,302.0 L481.4,302.0 L480.1,302.8 L480.8,304.6 L480.1,304.8 L479.6,303.3 L479.2,305.3Z M484.5,299.8 L485.2,300.2 L485.2,301.7 L484.6,301.7Z M483.4,303.6 L486.7,303.5 L486.7,304.1 L483.8,304.1Z M487.1,301.9 L489.3,301.9 L490.0,303.7 L492.2,302.5 L494.4,303.2 L497.3,304.4 L499.3,305.8 L498.8,306.4 L501.3,309.0 L499.1,308.6 L496.9,306.9 L495.5,308.1 L493.6,307.3 L492.2,307.5 L492.5,306.1 L490.4,304.6 L488.5,304.2 L487.8,303.3Z M499.9,305.4 L501.7,304.8 L502.6,304.4 L502.4,305.3 L500.9,305.9Z M474.3,317.8 L474.8,321.0 L475.4,324.3 L475.4,328.0 L477.6,328.6 L481.6,327.7 L483.4,326.3 L487.1,325.6 L489.3,326.7 L490.4,328.5 L492.0,326.7 L492.2,329.2 L494.0,331.4 L496.2,332.1 L498.2,332.3 L500.9,330.9 L501.9,327.3 L503.1,324.3 L503.3,320.6 L501.5,318.4 L500.2,316.5 L498.2,315.5 L497.5,312.4 L496.2,311.8 L495.5,309.2 L494.7,310.9 L494.4,314.3 L492.9,314.3 L490.4,312.4 L491.3,310.3 L488.5,309.8 L487.1,310.4 L486.0,312.4 L484.1,311.6 L482.7,312.8 L480.7,314.3 L480.1,315.8 L476.8,316.8Z M497.1,333.9 L499.6,334.0 L499.5,336.4 L498.0,336.7Z M517.5,328.2 L519.6,330.0 L521.8,331.1 L520.7,332.8 L519.4,334.8 L519.0,333.1 L518.3,332.6 L519.0,330.9Z M517.5,333.7 L518.7,334.9 L517.5,336.9 L515.9,339.3 L514.3,339.9 L513.0,339.1 L514.5,337.2 L516.4,335.2Z M397.3,270.3 L397.4,268.4 L398.4,268.4 L398.3,270.1Z M397.6,267.9 L397.7,266.7 L398.2,266.4 L398.2,267.8Z M400.4,271.3 L402.7,271.0 L402.4,272.4 L400.8,271.9Z M408.5,273.7 L410.5,273.8 L410.3,274.0 L408.6,273.9Z M414.9,274.0 L416.5,273.4 L416.2,274.0 L415.2,274.3Z M399.3,252.7 L400.4,251.7 L400.4,252.9 L399.9,253.3Z M346.7,345.4 L348.9,345.1 L348.9,346.2 L346.7,346.2Z M441.6,342.5 L442.8,342.6 L442.5,343.3 L441.7,343.2Z M316.4,225.3 L318.9,225.7 L320.4,222.9 L320.4,220.1 L318.2,219.1 L316.5,221.2Z M315.3,215.8 L319.7,216.4 L320.0,212.5 L317.8,211.0 L314.9,212.5Z M320.8,217.2 L323.0,217.2 L323.0,214.6 L320.8,214.9Z M318.6,230.9 L321.1,231.7 L321.6,229.7 L319.7,228.8Z M327.7,240.4 L329.2,241.2 L332.1,240.7 L332.8,239.4 L331.7,237.7 L329.5,236.4 L328.4,237.3 L327.7,239.1Z M301.4,213.4 L304.3,214.0 L306.9,209.3 L304.7,208.3 L302.1,211.0Z M314.5,207.6 L318.9,208.0 L320.4,204.0 L318.2,202.1 L314.5,204.0Z M320.0,207.6 L322.6,207.3 L323.0,204.4 L320.4,204.4Z M308.0,209.3 L310.9,209.0 L310.9,206.2 L308.3,206.2Z M308.3,205.5 L310.9,205.9 L311.3,203.6 L308.7,203.6Z M332.5,243.6 L333.3,243.6 L333.3,242.5 L332.6,242.5Z M334.6,234.0 L336.1,234.0 L336.1,232.1 L334.6,232.1Z M332.1,221.7 L335.0,222.4 L335.7,221.2 L334.3,219.6 L332.1,219.9Z M344.2,259.2 L346.2,260.0 L345.6,259.4Z M344.3,262.6 L346.0,262.9 L345.6,263.3Z M297.5,258.2 L299.9,258.7 L301.0,260.6 L299.9,260.5 L298.1,259.2Z M294.1,254.1 L295.0,254.2 L295.4,256.3 L294.6,255.7Z M278.4,250.1 L280.0,249.7 L279.8,248.6 L278.7,249.1Z M265.8,240.9 L267.9,241.2 L267.4,240.2 L265.9,240.2Z M269.0,246.1 L270.2,246.3 L270.0,245.5Z M521.8,226.4 L524.0,226.6 L524.5,225.5 L522.5,225.0Z M259.7,395.7 L274.3,393.9 L281.7,390.7 L289.0,386.2 L299.9,382.7 L310.9,384.8 L318.2,379.7 L325.5,380.4 L332.8,380.9 L336.5,377.3 L340.1,371.9 L342.0,368.0 L344.5,364.4 L347.4,361.9 L349.6,361.6 L348.5,363.5 L346.3,366.2 L344.9,369.9 L346.0,376.2 L346.7,383.5 L343.8,392.3 L351.1,395.7 L362.1,395.7 L365.7,393.9 L370.8,387.7 L376.7,382.2 L382.5,377.3 L387.6,375.7 L391.3,375.1 L398.6,375.1 L405.9,375.1 L413.2,374.0 L419.1,373.6 L421.3,372.5 L424.2,369.9 L427.9,367.6 L430.8,366.3 L433.7,367.6 L436.6,368.9 L439.5,369.9 L441.7,371.9 L443.2,373.8 L445.4,373.8 L446.9,372.3 L448.3,370.5 L451.2,368.4 L455.6,367.4 L460.7,366.7 L464.4,365.6 L468.1,366.7 L471.7,366.2 L475.4,367.1 L479.0,367.4 L482.7,366.7 L486.3,366.2 L490.0,365.8 L493.6,367.1 L497.3,368.0 L500.9,370.5 L504.6,371.9 L508.3,374.0 L511.9,376.2 L515.6,378.5 L515.6,393.9 L522.9,395.7 L522.9,432.5 L259.7,432.5Z M522.9,395.7 L537.5,393.9 L544.8,390.7 L552.1,386.2 L563.1,382.7 L574.0,384.8 L581.4,379.7 L588.7,380.4 L596.0,380.9 L599.6,377.3 L603.3,371.9 L605.1,368.0 L607.7,364.4 L610.6,361.9 L612.8,361.6 L611.7,363.5 L609.5,366.2 L608.0,369.9 L609.1,376.2 L609.9,383.5 L606.9,392.3 L614.3,395.7 L625.2,395.7 L628.9,393.9 L634.0,387.7 L639.8,382.2 L645.7,377.3 L650.8,375.7 L654.5,375.1 L661.8,375.1 L669.1,375.1 L676.4,374.0 L682.2,373.6 L684.4,372.5 L687.4,369.9 L691.0,367.6 L693.9,366.3 L696.9,367.6 L699.8,368.9 L702.7,369.9 L704.9,371.9 L706.4,373.8 L708.6,373.8 L710.0,372.3 L711.5,370.5 L714.4,368.4 L718.8,367.4 L723.9,366.7 L727.6,365.6 L731.2,366.7 L734.9,366.2 L738.5,367.1 L742.2,367.4 L745.8,366.7 L749.5,366.2 L753.1,365.8 L756.8,367.1 L760.5,368.0 L764.1,370.5 L767.8,371.9 L771.4,374.0 L775.1,376.2 L778.7,378.5 L778.7,393.9 L786.0,395.7 L786.0,432.5 L522.9,432.5Z" fill="#F4F2EC" stroke="#F4F2EC" stroke-width="0.5" stroke-linejoin="round"/>
<path d="M411.8,268.2 L411.8,265.9 L412.9,264.2 L413.7,263.0 L415.4,263.3 L415.8,264.8 L417.3,264.4 L418.3,264.1 L419.1,262.3 L420.0,262.3 L418.7,264.7 L420.2,265.9 L421.7,267.7 L419.8,268.4 L417.6,267.8 L415.4,267.4 L414.0,268.3Z M427.1,271.7 L428.6,272.1 L430.8,272.1 L430.4,269.3 L429.9,267.9 L430.8,267.4 L429.7,266.6 L428.9,264.9 L430.0,264.1 L430.0,262.5 L427.1,262.8 L425.7,264.6 L426.0,266.4 L427.5,268.9 L427.0,270.8Z M434.1,265.4 L435.9,265.4 L435.9,263.3 L434.4,262.8Z M467.3,257.2 L469.2,256.6 L471.3,253.6 L471.6,251.9 L470.6,252.9 L468.4,256.0Z M324.0,262.6 L327.0,260.3 L329.2,261.4 L329.5,262.8 L327.7,262.9 L325.5,262.7Z M327.0,267.4 L328.2,267.4 L329.2,263.7 L327.7,263.7 L327.0,265.4Z M329.5,263.3 L332.1,263.3 L332.8,264.7 L331.0,266.4 L330.3,264.9Z M330.3,267.7 L333.6,266.6 L335.5,265.9 L335.4,265.4 L333.0,265.8 L332.1,267.1Z M318.9,258.4 L320.8,258.4 L320.4,254.5 L318.9,254.8Z M300.3,238.2 L305.0,237.7 L305.0,235.0 L301.4,235.0Z M305.8,244.9 L309.4,244.6 L311.6,241.9 L309.4,241.9 L306.5,243.4Z M414.5,303.3 L416.2,303.1 L416.2,301.1 L414.7,301.1Z M413.6,246.1 L415.3,245.8 L415.1,243.9 L413.6,244.2Z" fill="#ACC7F0"/>
<path d="M288.2,229.5 L288.2,245.7 L291.2,247.6 L292.6,246.9 L296.3,252.3 M301.4,260.1 L321.9,260.1 L326.2,261.2 L329.5,262.8 L331.0,264.1 L331.0,266.9 L333.6,266.4 L335.4,265.4 L336.7,264.4 L339.0,264.4 L340.7,261.8 L341.7,262.3 L342.3,264.4 M305.7,276.2 L307.4,276.2 L310.2,277.2 L312.2,277.2 L313.4,276.8 L314.9,278.7 L316.0,279.1 L317.2,278.5 L318.6,280.4 L320.2,281.7 M425.3,260.6 L425.7,259.0 L428.6,257.2 L431.5,257.8 L434.4,258.2 L436.3,257.8 L435.9,254.8 L439.5,253.3 L443.2,254.0 L445.0,254.5 L447.6,255.1 L449.8,257.8 L452.3,257.8 L455.1,259.9 M455.1,259.9 L458.6,258.2 L462.6,259.0 L463.3,256.6 L466.2,258.6 L469.5,259.0 L473.9,259.2 L476.6,259.2 L478.9,259.5 M455.5,259.9 L457.8,263.3 L461.1,265.2 L462.2,266.6 L467.3,267.6 L471.7,266.7 L473.2,264.6 L476.1,262.8 L478.9,262.3 L476.6,259.2 M478.9,259.5 L479.8,255.1 L482.7,255.2 L484.5,259.2 L487.1,261.5 L490.0,260.8 L488.5,264.4 L487.1,266.4 L486.8,267.0 M455.1,259.9 L453.8,262.3 L451.6,264.2 L449.9,267.2 L445.4,269.3 L445.8,272.1 L448.3,273.5 L449.0,276.2 L450.5,278.1 L454.2,280.0 L456.2,280.4 L458.6,280.1 L462.4,279.8 M411.8,228.6 L412.5,235.5 L413.2,241.5 L414.3,242.3 L411.8,245.4 M411.8,246.9 L411.4,249.7 L411.8,251.7 L414.0,252.9 L414.7,256.6 L416.9,257.8 L419.1,259.0 L420.5,259.5 L420.4,261.4 L419.2,262.2 M340.5,314.3 L341.6,309.4 L339.8,308.3 L337.9,306.7 L340.1,304.4 L340.5,302.0 L342.3,300.4 L344.5,299.8 L347.4,297.6 M348.9,316.2 L349.1,317.8 L351.4,320.7 L352.0,321.8 L349.2,324.5 L348.8,326.9 M342.3,318.4 L340.1,325.2 L339.4,331.4 L338.7,340.3 L338.3,344.8" fill="none" stroke="#D9D5CC" stroke-width="0.35"/>
<text x="319.00" y="252.60" font-size="3.8" fill="#8a8a8a" text-anchor="middle" font-weight="normal" >NORTH</text>
<text x="319.00" y="257.20" font-size="3.8" fill="#8a8a8a" text-anchor="middle" font-weight="normal" >AMERICA</text>
<text x="353.50" y="310.60" font-size="3.8" fill="#8a8a8a" text-anchor="middle" font-weight="normal" >SOUTH</text>
<text x="354.50" y="315.60" font-size="3.8" fill="#8a8a8a" text-anchor="middle" font-weight="normal" >AMERICA</text>
<text x="467.30" y="253.20" font-size="3.8" fill="#8a8a8a" text-anchor="middle" font-weight="normal" >ASIA</text>
<text x="493.50" y="318.30" font-size="3.8" fill="#8a8a8a" text-anchor="middle" font-weight="normal" >AUSTRALIA</text>
<text x="402.00" y="274.00" font-size="3.8" fill="#8a8a8a" text-anchor="middle" font-weight="normal" >EUROPE</text>
<text x="405.00" y="300.00" font-size="3.8" fill="#8a8a8a" text-anchor="middle" font-weight="normal" >AFRICA</text>
<text x="269.00" y="275.60" font-size="2.8" fill="#5B7FB5" text-anchor="middle" font-weight="normal" >Pacific</text>
<text x="269.00" y="278.80" font-size="2.8" fill="#5B7FB5" text-anchor="middle" font-weight="normal" >Ocean</text>
<text x="361.20" y="276.80" font-size="2.8" fill="#5B7FB5" text-anchor="middle" font-weight="normal" >Atlantic</text>
<text x="361.20" y="280.00" font-size="2.8" fill="#5B7FB5" text-anchor="middle" font-weight="normal" >Ocean</text>
<text x="448.00" y="316.80" font-size="2.8" fill="#5B7FB5" text-anchor="middle" font-weight="normal" >Indian</text>
<text x="448.00" y="320.00" font-size="2.8" fill="#5B7FB5" text-anchor="middle" font-weight="normal" >Ocean</text>
<g fill="#F0A512" fill-opacity="0.68" stroke="#CC8F12" stroke-opacity="0.85" stroke-width="0.45">
<circle cx="320.7" cy="241.7" r="3.4"/>
<circle cx="319.1" cy="269.5" r="6.5"/>
<circle cx="361.0" cy="216.8" r="3.4"/>
<circle cx="349.9" cy="261.8" r="2.9"/>
<circle cx="343.9" cy="276.3" r="3.0"/>
<circle cx="316.4" cy="283.5" r="3.2"/>
<circle cx="325.4" cy="289.6" r="3.0"/>
<circle cx="326.6" cy="288.5" r="3.0"/>
<circle cx="326.3" cy="291.1" r="3.0"/>
<circle cx="328.3" cy="290.1" r="3.0"/>
<circle cx="329.0" cy="291.8" r="3.0"/>
<circle cx="330.1" cy="294.1" r="3.0"/>
<circle cx="332.2" cy="295.1" r="3.0"/>
<circle cx="334.4" cy="285.2" r="3.0"/>
<circle cx="332.4" cy="286.8" r="3.0"/>
<circle cx="334.8" cy="287.8" r="3.0"/>
<circle cx="334.7" cy="282.4" r="3.0"/>
<circle cx="338.8" cy="285.0" r="3.0"/>
<circle cx="338.4" cy="287.1" r="3.0"/>
<circle cx="340.0" cy="287.4" r="3.0"/>
<circle cx="342.6" cy="287.8" r="3.0"/>
<circle cx="343.9" cy="287.7" r="3.0"/>
<circle cx="345.2" cy="287.8" r="3.0"/>
<circle cx="345.4" cy="288.4" r="3.0"/>
<circle cx="346.1" cy="288.6" r="3.0"/>
<circle cx="346.3" cy="289.3" r="3.0"/>
<circle cx="346.4" cy="289.9" r="3.0"/>
<circle cx="346.7" cy="290.5" r="3.0"/>
<circle cx="346.7" cy="291.0" r="3.0"/>
<circle cx="347.8" cy="291.6" r="3.0"/>
<circle cx="346.5" cy="291.7" r="3.0"/>
<circle cx="346.3" cy="292.3" r="3.0"/>
<circle cx="346.6" cy="293.4" r="3.0"/>
<circle cx="340.1" cy="292.1" r="3.0"/>
<circle cx="340.9" cy="292.3" r="3.0"/>
<circle cx="337.0" cy="297.9" r="3.0"/>
<circle cx="342.6" cy="296.6" r="3.0"/>
<circle cx="348.2" cy="297.7" r="3.0"/>
<circle cx="350.4" cy="298.4" r="3.0"/>
<circle cx="352.5" cy="298.4" r="3.0"/>
<circle cx="334.1" cy="302.6" r="3.0"/>
<circle cx="336.5" cy="308.1" r="3.0"/>
<circle cx="352.6" cy="308.4" r="4.0"/>
<circle cx="344.8" cy="313.4" r="3.0"/>
<circle cx="348.6" cy="318.9" r="3.0"/>
<circle cx="339.0" cy="329.3" r="3.0"/>
<circle cx="343.4" cy="329.1" r="3.0"/>
<circle cx="350.5" cy="326.4" r="3.0"/>
<circle cx="347.8" cy="345.7" r="3.0"/>
<circle cx="267.0" cy="312.3" r="3.0"/>
<circle cx="274.5" cy="317.2" r="3.0"/>
<circle cx="282.1" cy="314.3" r="3.0"/>
<circle cx="373.8" cy="289.4" r="3.0"/>
<circle cx="387.1" cy="313.1" r="3.0"/>
<circle cx="377.6" cy="238.2" r="3.1"/>
<circle cx="386.2" cy="243.1" r="3.0"/>
<circle cx="387.9" cy="254.1" r="9.0"/>
<circle cx="385.3" cy="255.1" r="2.9"/>
<circle cx="402.1" cy="239.7" r="3.5"/>
<circle cx="410.5" cy="239.1" r="3.2"/>
<circle cx="398.2" cy="251.7" r="3.0"/>
<circle cx="409.9" cy="248.0" r="3.0"/>
<circle cx="409.3" cy="250.5" r="3.0"/>
<circle cx="408.8" cy="252.7" r="3.0"/>
<circle cx="411.7" cy="254.6" r="3.0"/>
<circle cx="395.2" cy="256.4" r="3.0"/>
<circle cx="394.6" cy="258.3" r="3.0"/>
<circle cx="395.8" cy="259.2" r="3.0"/>
<circle cx="398.9" cy="257.6" r="3.0"/>
<circle cx="405.3" cy="256.6" r="3.0"/>
<circle cx="402.6" cy="259.2" r="3.0"/>
<circle cx="405.7" cy="260.4" r="3.0"/>
<circle cx="401.9" cy="261.7" r="3.0"/>
<circle cx="405.6" cy="262.1" r="3.0"/>
<circle cx="397.3" cy="262.5" r="3.0"/>
<circle cx="393.0" cy="263.0" r="3.0"/>
<circle cx="389.7" cy="259.8" r="3.0"/>
<circle cx="388.0" cy="254.0" r="3.0"/>
<circle cx="388.6" cy="269.0" r="3.0"/>
<circle cx="385.3" cy="269.8" r="3.0"/>
<circle cx="392.5" cy="266.9" r="3.0"/>
<circle cx="396.7" cy="265.7" r="3.0"/>
<circle cx="400.5" cy="267.4" r="3.0"/>
<circle cx="401.8" cy="273.1" r="3.0"/>
<circle cx="402.3" cy="263.2" r="3.0"/>
<circle cx="402.6" cy="264.3" r="3.0"/>
<circle cx="404.2" cy="265.5" r="3.0"/>
<circle cx="406.7" cy="265.4" r="3.0"/>
<circle cx="405.5" cy="266.7" r="3.0"/>
<circle cx="406.1" cy="268.2" r="3.0"/>
<circle cx="407.2" cy="267.8" r="3.0"/>
<circle cx="407.4" cy="270.2" r="3.0"/>
<circle cx="409.9" cy="266.7" r="3.0"/>
<circle cx="409.6" cy="263.4" r="3.0"/>
<circle cx="412.1" cy="261.8" r="3.0"/>
<circle cx="414.1" cy="260.8" r="3.0"/>
<circle cx="387.4" cy="273.0" r="3.0"/>
<circle cx="415.7" cy="273.9" r="3.0"/>
<circle cx="417.0" cy="270.3" r="3.0"/>
<circle cx="423.0" cy="267.1" r="3.0"/>
<circle cx="424.2" cy="269.2" r="3.0"/>
<circle cx="426.1" cy="269.2" r="3.0"/>
<circle cx="463.9" cy="243.4" r="3.2"/>
<circle cx="465.9" cy="262.4" r="3.0"/>
<circle cx="466.6" cy="273.1" r="3.5"/>
<circle cx="440.1" cy="261.2" r="3.0"/>
<circle cx="438.5" cy="268.0" r="3.0"/>
<circle cx="446.0" cy="268.2" r="3.0"/>
<circle cx="443.4" cy="270.4" r="3.0"/>
<circle cx="434.9" cy="270.3" r="3.0"/>
<circle cx="440.8" cy="274.9" r="3.0"/>
<circle cx="442.0" cy="278.0" r="3.0"/>
<circle cx="449.0" cy="285.6" r="3.6"/>
<circle cx="452.8" cy="279.6" r="3.0"/>
<circle cx="457.4" cy="280.4" r="3.0"/>
<circle cx="457.4" cy="283.5" r="3.0"/>
<circle cx="450.4" cy="295.5" r="3.0"/>
<circle cx="444.8" cy="299.0" r="3.0"/>
<circle cx="461.5" cy="284.9" r="3.0"/>
<circle cx="465.1" cy="289.5" r="3.2"/>
<circle cx="466.2" cy="286.4" r="3.0"/>
<circle cx="468.1" cy="292.0" r="3.0"/>
<circle cx="470.5" cy="290.9" r="3.0"/>
<circle cx="465.9" cy="298.2" r="3.0"/>
<circle cx="467.2" cy="300.3" r="3.0"/>
<circle cx="475.1" cy="298.0" r="3.2"/>
<circle cx="474.6" cy="301.9" r="3.0"/>
<circle cx="480.3" cy="291.8" r="3.0"/>
<circle cx="474.7" cy="284.5" r="3.0"/>
<circle cx="479.8" cy="283.5" r="3.0"/>
<circle cx="484.7" cy="273.1" r="3.0"/>
<circle cx="492.2" cy="272.9" r="3.2"/>
<circle cx="497.1" cy="291.4" r="3.0"/>
<circle cx="489.7" cy="295.8" r="3.0"/>
<circle cx="483.2" cy="307.8" r="3.0"/>
<circle cx="468.1" cy="309.0" r="3.0"/>
<circle cx="496.2" cy="305.9" r="3.0"/>
<circle cx="507.9" cy="308.4" r="3.0"/>
<circle cx="513.5" cy="312.7" r="3.0"/>
<circle cx="512.3" cy="317.0" r="3.0"/>
<circle cx="513.7" cy="323.5" r="3.0"/>
<circle cx="520.0" cy="313.9" r="3.0"/>
<circle cx="488.8" cy="320.8" r="3.4"/>
<circle cx="515.6" cy="333.8" r="3.0"/>
<circle cx="416.8" cy="277.4" r="3.0"/>
<circle cx="417.0" cy="276.7" r="3.0"/>
<circle cx="417.5" cy="274.9" r="3.0"/>
<circle cx="419.8" cy="274.1" r="3.0"/>
<circle cx="417.8" cy="277.8" r="3.0"/>
<circle cx="423.2" cy="275.5" r="3.0"/>
<circle cx="430.6" cy="276.2" r="3.0"/>
<circle cx="426.0" cy="278.9" r="3.0"/>
<circle cx="428.3" cy="281.7" r="3.0"/>
<circle cx="428.7" cy="282.2" r="3.0"/>
<circle cx="424.3" cy="283.3" r="3.0"/>
<circle cx="430.6" cy="283.7" r="3.0"/>
<circle cx="432.2" cy="285.2" r="3.0"/>
<circle cx="426.8" cy="289.8" r="3.0"/>
<circle cx="386.1" cy="276.8" r="3.0"/>
<circle cx="392.5" cy="280.0" r="3.0"/>
<circle cx="398.2" cy="274.9" r="3.0"/>
<circle cx="403.9" cy="281.4" r="3.0"/>
<circle cx="413.8" cy="280.9" r="3.0"/>
<circle cx="383.3" cy="285.6" r="3.0"/>
<circle cx="388.4" cy="288.2" r="3.0"/>
<circle cx="397.2" cy="288.2" r="3.0"/>
<circle cx="405.0" cy="289.8" r="3.0"/>
<circle cx="413.4" cy="291.8" r="3.0"/>
<circle cx="420.4" cy="290.1" r="3.0"/>
<circle cx="422.4" cy="292.6" r="3.0"/>
<circle cx="420.9" cy="294.6" r="3.0"/>
<circle cx="425.1" cy="297.5" r="3.0"/>
<circle cx="380.7" cy="290.6" r="3.0"/>
<circle cx="380.1" cy="291.4" r="3.0"/>
<circle cx="380.2" cy="292.6" r="3.0"/>
<circle cx="384.2" cy="294.0" r="3.0"/>
<circle cx="382.7" cy="295.1" r="3.0"/>
<circle cx="384.4" cy="296.6" r="3.0"/>
<circle cx="387.3" cy="295.8" r="3.0"/>
<circle cx="390.1" cy="292.3" r="3.0"/>
<circle cx="390.6" cy="295.5" r="3.0"/>
<circle cx="391.9" cy="295.0" r="3.0"/>
<circle cx="393.0" cy="294.5" r="3.0"/>
<circle cx="397.7" cy="294.6" r="3.0"/>
<circle cx="400.4" cy="295.9" r="3.0"/>
<circle cx="406.6" cy="296.5" r="3.0"/>
<circle cx="413.2" cy="296.2" r="3.0"/>
<circle cx="398.8" cy="300.1" r="3.0"/>
<circle cx="396.1" cy="301.2" r="3.0"/>
<circle cx="399.8" cy="301.9" r="3.0"/>
<circle cx="402.8" cy="301.4" r="3.0"/>
<circle cx="407.2" cy="304.2" r="3.0"/>
<circle cx="414.9" cy="300.3" r="3.0"/>
<circle cx="419.0" cy="301.3" r="3.0"/>
<circle cx="413.2" cy="302.7" r="3.0"/>
<circle cx="413.2" cy="303.8" r="3.0"/>
<circle cx="416.8" cy="306.0" r="3.0"/>
<circle cx="404.4" cy="309.5" r="3.0"/>
<circle cx="411.6" cy="311.0" r="3.0"/>
<circle cx="416.4" cy="311.1" r="3.0"/>
<circle cx="417.3" cy="315.2" r="3.0"/>
<circle cx="412.6" cy="315.5" r="3.0"/>
<circle cx="409.4" cy="318.0" r="3.0"/>
<circle cx="404.8" cy="318.6" r="3.0"/>
<circle cx="408.0" cy="324.8" r="3.0"/>
<circle cx="411.9" cy="324.0" r="3.0"/>
<circle cx="414.3" cy="321.4" r="3.0"/>
<circle cx="425.6" cy="315.3" r="3.0"/>
<circle cx="423.4" cy="310.1" r="3.0"/>
<circle cx="424.3" cy="310.7" r="3.0"/>
<circle cx="431.9" cy="304.7" r="3.0"/>
<circle cx="433.3" cy="316.5" r="3.0"/>
<circle cx="431.9" cy="317.1" r="3.0"/>
</g>
<text x="268.20" y="370.30" font-size="3.2" fill="#333" text-anchor="start" font-weight="bold" >b Bing</text>
<text x="512.50" y="371.00" font-size="2.2" fill="#555" text-anchor="end" font-weight="normal" >© 2019 HERE, © 2019 Microsoft Corporation  Terms</text>
</g>
<rect x="266.00" y="190.60" width="21.10" height="20.70" fill="#fff" stroke="#1a1a1a" stroke-width="1.2" rx="0.4"/>
<text x="276.55" y="204.55" font-size="11.8" fill="#111" text-anchor="middle" font-weight="normal" >D</text>
</g>
</svg>
</body></html>
